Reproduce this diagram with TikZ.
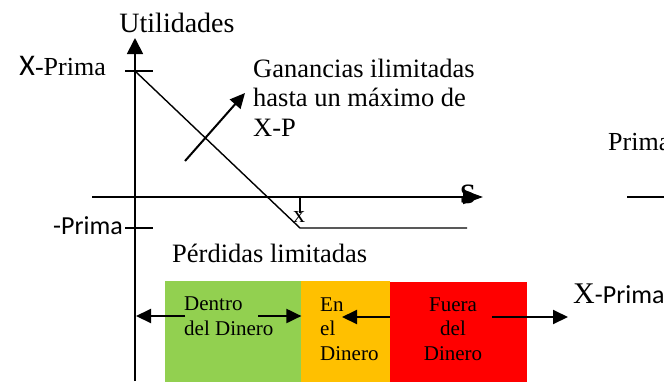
\documentclass[tikz,border=0pt]{standalone}
\usepackage{fontspec}
\setmainfont{Liberation Serif}
\newfontfamily\calibri{Carlito}
\usepackage{xcolor}
\usetikzlibrary{arrows.meta,positioning,calc}

\definecolor{dentrogreen}{HTML}{92D050}
\definecolor{enorange}{HTML}{FFC000}
\definecolor{fuerared}{HTML}{FF0000}
\newcommand{\fsz}[2]{\fontsize{#1}{#2}\selectfont}

\begin{document}
\begin{tikzpicture}[x=1pt, y=-1pt,
        axis/.style={line width=1.8pt},
        thin/.style={line width=1.4pt},
        arr/.style={line width=2pt, -{Triangle[length=15pt, width=14pt]}},
        zone/.style={rectangle, inner sep=0pt, anchor=north west, minimum height=101pt},
        lbl/.style={inner sep=0pt, font=\fsz{26}{30}},
        small/.style={inner sep=0pt, font=\fsz{21}{24.5}, align=left, anchor=base west}
    ]
        \clip (0,0) rectangle (664,381);

        % money zones
        \node [zone, fill=dentrogreen, minimum width=136pt] (dentro) at (165,281) {};
        \node [zone, fill=enorange, minimum width=89pt] (en) at (301,281) {};
        \node [zone, fill=fuerared, minimum width=137pt] (fuera) at (390,282) {};

        % axes
        \coordinate (o) at (135,197);
        \coordinate (ytop) at (135,38);
        \coordinate (ybot) at (135,381);
        \coordinate (xl) at (92,197);
        \coordinate (xr) at (483,197);
        \draw [axis, -{Triangle[length=16pt, width=16pt]}] (ybot) -- (ytop);
        \draw [axis, -{Triangle[length=20pt, width=14pt]}] (xl) -- (xr);
        \node [lbl, font=\fsz{28}{32}, anchor=base] (util) at (177,32) {Utilidades};
        \node [lbl, font=\fsz{28}{32}\bfseries, anchor=base] (s) at (468,203) {S};

        % payoff
        \coordinate (xp) at (135,71);
        \coordinate (kink) at (300,228);
        \coordinate (pend) at (467,228);
        \draw [thin] (xp) -- (kink) -- (pend);

        % ticks
        \coordinate (t1l) at (125,71);  \coordinate (t1r) at (153,71);
        \coordinate (t2l) at (125,228); \coordinate (t2r) at (153,228);
        \draw [axis] (t1l) -- (t1r);
        \draw [axis] (t2l) -- (t2r);
        \coordinate (xs1) at (300,197); \coordinate (xs2) at (300,213);
        \draw [thin] (xs1) -- (xs2);
        \node [lbl, font=\fsz{24}{28}, anchor=base] (strike) at (299,222) {x};

        \node [lbl, anchor=base east] (xprima) at (106,75) {{\calibri\fsz{30}{34}X}-Prima};
        \node [lbl, anchor=base east] (mprima) at (123,234) {\calibri -Prima};

        % ganancias
        \coordinate (g1) at (185,161);
        \coordinate (g2) at (245,93);
        \draw [arr] (g1) -- (g2);
        \node [lbl, font=\fsz{26.5}{29.5}, align=left, anchor=base west] (gan) at (253,136)
            {Ganancias ilimitadas\\hasta un máximo de\\X-P};
        \node [lbl, font=\fsz{26.5}{30}, anchor=base west] (perd) at (172,262) {Pérdidas limitadas};

        % zone texts
        \node [small] (dtxt) at (184,335) {Dentro\\del Dinero};
        \node [small] (etxt) at (320,360) {En\\el\\Dinero};
        \node [small, align=center, anchor=base] (ftxt) at (453,360) {Fuera\\del\\Dinero};

        \coordinate (a1) at (185,316); \coordinate (a1e) at (136,316);
        \coordinate (a2) at (258,316);
        \coordinate (a3e) at (342,317);
        \coordinate (a4) at (492,317); \coordinate (a4e) at (568,317);
        \draw [arr] (a1) -- (a1e);
        \draw [arr] (a2) -- (dentro.east |- a2);
        \draw [arr] (fuera.west |- a3e) -- (a3e);
        \draw [arr] (a4) -- (a4e);

        \node [lbl, anchor=base west] (xprima2) at (573,303) {{\fsz{30}{34}X}\calibri -Prima};

        % right edge
        \node [lbl, anchor=base west] (prima) at (608,150) {Prima};
        \coordinate (r1) at (627,197); \coordinate (r2) at (670,197);
        \draw [thin] (r1) -- (r2);
    \end{tikzpicture}
\end{document}
